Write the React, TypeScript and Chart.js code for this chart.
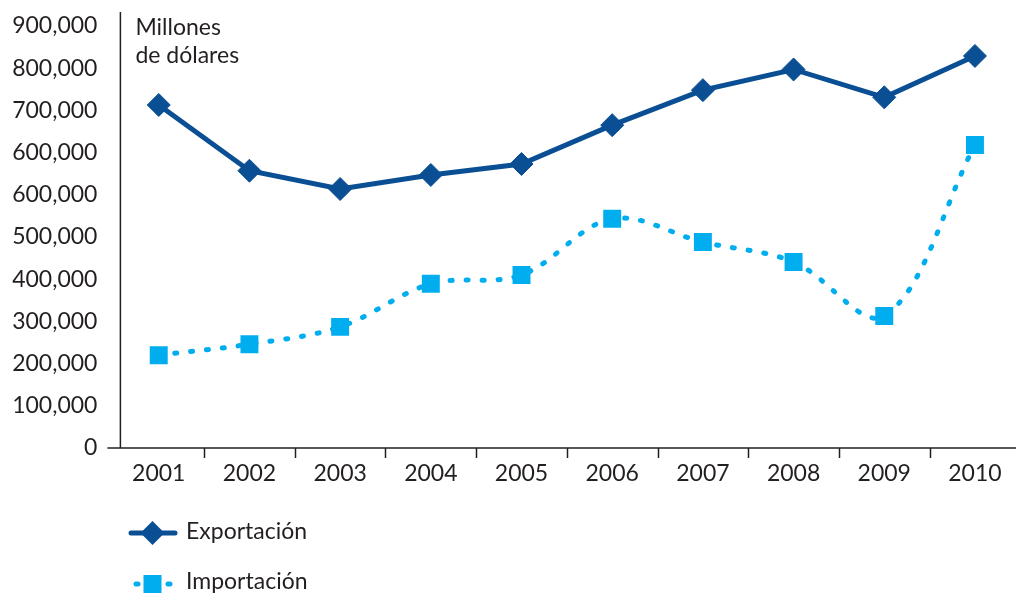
import React, { useEffect, useRef } from "react";
import { Chart, registerables } from "chart.js";

Chart.register(...registerables);

const years = ["2001", "2002", "2003", "2004", "2005", "2006", "2007", "2008", "2009", "2010"];
const exportacion = [812800, 657000, 613700, 647000, 673000, 765000, 848000, 897000, 831000, 929000];
const importacion = [220000, 246000, 287000, 389000, 410000, 543000, 488000, 441000, 313000, 718000];
const yTickLabels = ["0", "100,000", "200,000", "300,000", "400,000", "500,000", "600,000", "600,000", "700,000", "800,000", "900,000"];
const seriesNames = ["Exportación", "Importación"];
const axisTitle = ["Millones", "de dólares"];

const EXP_COLOR = "#0a4f94";
const IMP_COLOR = "#00aeef";
const TEXT_COLOR = "#231f20";
const FONT_FAMILY = "Lato, 'Open Sans', sans-serif";
const FONT_SIZE = 23;

function drawDiamond(ctx: CanvasRenderingContext2D, x: number, y: number, r: number) {
  ctx.beginPath();
  ctx.moveTo(x - r, y);
  ctx.lineTo(x, y - r);
  ctx.lineTo(x + r, y);
  ctx.lineTo(x, y + r);
  ctx.closePath();
  ctx.fill();
}

const overlayPlugin = {
  id: "overlay",
  beforeDatasetsDraw(chart: any) {
    const ctx: CanvasRenderingContext2D = chart.ctx;
    const xs = chart.scales.x;
    const ys = chart.scales.y;
    const y0 = ys.getPixelForValue(0);
    ctx.save();
    ctx.strokeStyle = TEXT_COLOR;
    ctx.lineWidth = 1.5;
    ctx.beginPath();
    ctx.moveTo(chart.chartArea.left + 7, 12);
    ctx.lineTo(chart.chartArea.left + 7, y0);
    ctx.stroke();
    ctx.beginPath();
    ctx.moveTo(chart.chartArea.left - 6, y0);
    ctx.lineTo(chart.width, y0);
    ctx.stroke();
    for (let i = 0; i < years.length - 1; i++) {
      const px = Math.round((xs.getPixelForValue(i) + xs.getPixelForValue(i + 1)) / 2) + 0.5;
      ctx.beginPath();
      ctx.moveTo(px, y0);
      ctx.lineTo(px, y0 + 10);
      ctx.stroke();
    }
    ctx.restore();
  },
  afterDraw(chart: any) {
    const ctx: CanvasRenderingContext2D = chart.ctx;
    ctx.save();
    ctx.fillStyle = TEXT_COLOR;
    ctx.font = `${FONT_SIZE}px ${FONT_FAMILY}`;
    ctx.textBaseline = "alphabetic";
    ctx.textAlign = "left";
    const tx = chart.chartArea.left + 22;
    ctx.fillText(axisTitle[0], tx, 35);
    ctx.fillText(axisTitle[1], tx, 62.5);

    const lx0 = 131;
    const lx1 = 175;
    const lxm = 152.5;
    const ly1 = 533;
    const ly2 = 584;
    ctx.strokeStyle = EXP_COLOR;
    ctx.lineWidth = 5;
    ctx.lineCap = "round";
    ctx.beginPath();
    ctx.moveTo(lx0, ly1);
    ctx.lineTo(lx1, ly1);
    ctx.stroke();
    ctx.fillStyle = EXP_COLOR;
    drawDiamond(ctx, lxm, ly1, 12);

    ctx.strokeStyle = IMP_COLOR;
    ctx.setLineDash([2, 14]);
    ctx.beginPath();
    ctx.moveTo(136, ly2);
    ctx.lineTo(171, ly2);
    ctx.stroke();
    ctx.setLineDash([]);
    ctx.fillStyle = IMP_COLOR;
    ctx.fillRect(lxm - 9, ly2 - 9, 18, 18);

    ctx.fillStyle = TEXT_COLOR;
    ctx.textBaseline = "middle";
    ctx.fillText(seriesNames[0], 186, ly1 - 1);
    ctx.fillText(seriesNames[1], 186, ly2 - 2);
    ctx.restore();
  },
};

export default function App() {
  const canvasRef = useRef<HTMLCanvasElement | null>(null);

  useEffect(() => {
    if (!canvasRef.current) return;
    const chart = new Chart(canvasRef.current, {
      type: "line",
      data: {
        labels: years,
        datasets: [
          {
            label: seriesNames[1],
            data: importacion,
            borderColor: IMP_COLOR,
            backgroundColor: IMP_COLOR,
            borderWidth: 5,
            borderDash: [2, 14],
            borderCapStyle: "round",
            tension: 0.35,
            pointStyle: "rect",
            pointRadius: 12.7,
            pointBorderWidth: 0,
            pointBackgroundColor: IMP_COLOR,
            fill: false,
          },
          {
            label: seriesNames[0],
            data: exportacion,
            borderColor: EXP_COLOR,
            backgroundColor: EXP_COLOR,
            borderWidth: 5,
            tension: 0,
            pointStyle: "rectRot",
            pointRadius: 11.5,
            pointBorderWidth: 1,
            pointBorderColor: EXP_COLOR,
            pointBackgroundColor: EXP_COLOR,
            fill: false,
          },
        ],
      },
      options: {
        animation: false,
        responsive: true,
        maintainAspectRatio: false,
        layout: { padding: { left: 0, right: 4.5, top: 26, bottom: 106 } },
        plugins: {
          legend: { display: false },
          tooltip: { enabled: false },
        },
        scales: {
          x: {
            type: "category",
            offset: true,
            grid: { display: false, offset: true },
            border: { display: false },
            ticks: {
              color: TEXT_COLOR,
              font: { family: FONT_FAMILY, size: FONT_SIZE },
              padding: 4,
              maxRotation: 0,
              autoSkip: false,
            },
            afterFit: (scale: any) => {
              scale.height = 40;
              scale.paddingLeft = 0;
              scale.paddingRight = 0;
            },
          },
          y: {
            type: "linear",
            min: 0,
            max: 1000000,
            grid: { display: false, drawTicks: false },
            border: { display: false },
            ticks: {
              stepSize: 100000,
              color: TEXT_COLOR,
              font: { family: FONT_FAMILY, size: FONT_SIZE },
              padding: 16,
              callback: (_v: any, i: number) => yTickLabels[i],
            },
            afterFit: (scale: any) => {
              scale.width = 113.4;
              scale.paddingTop = 0;
              scale.paddingBottom = 0;
            },
          },
        },
      },
      plugins: [overlayPlugin],
    });
    return () => chart.destroy();
  }, []);

  return (
    <div style={{ position: "fixed", left: 0, top: 0, width: 1016, height: 594, overflow: "hidden", background: "#fff" }}>
      <div style={{ position: "relative", width: 1033, height: 594 }}>
        <canvas ref={canvasRef} />
      </div>
    </div>
  );
}
